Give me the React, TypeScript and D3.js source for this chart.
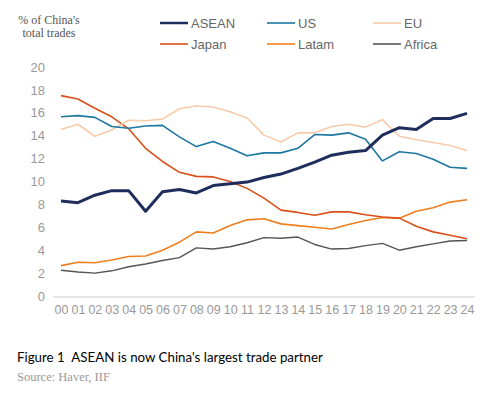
import { useRef, useEffect } from 'react';
import * as d3 from 'd3';

const years = ['00', '01', '02', '03', '04', '05', '06', '07', '08', '09', '10', '11', '12', '13', '14', '15', '16', '17', '18', '19', '20', '21', '22', '23', '24'];

const asean = [8.3, 8.15, 8.8, 9.2, 9.2, 7.4, 9.1, 9.3, 9.0, 9.65, 9.8, 9.95, 10.35, 10.65, 11.15, 11.7, 12.3, 12.55, 12.7, 14.05, 14.7, 14.55, 15.5, 15.5, 15.95];
const us = [15.65, 15.75, 15.6, 14.8, 14.65, 14.85, 14.9, 13.9, 13.05, 13.5, 12.9, 12.25, 12.5, 12.5, 12.9, 14.1, 14.05, 14.25, 13.7, 11.8, 12.6, 12.45, 11.95, 11.25, 11.15];
const eu = [14.55, 15.0, 13.95, 14.5, 15.35, 15.3, 15.45, 16.35, 16.6, 16.5, 16.1, 15.55, 14.05, 13.45, 14.25, 14.25, 14.8, 15.0, 14.75, 15.4, 13.95, 13.65, 13.4, 13.15, 12.7];
const japan = [17.5, 17.2, 16.4, 15.65, 14.6, 12.9, 11.75, 10.8, 10.45, 10.4, 10.0, 9.4, 8.55, 7.5, 7.3, 7.05, 7.35, 7.35, 7.1, 6.9, 6.8, 6.1, 5.6, 5.3, 5.0];
const latam = [2.65, 2.95, 2.9, 3.15, 3.45, 3.5, 4.0, 4.7, 5.6, 5.5, 6.15, 6.65, 6.75, 6.3, 6.15, 6.0, 5.85, 6.25, 6.6, 6.85, 6.8, 7.4, 7.7, 8.2, 8.4];
const africa = [2.25, 2.1, 2.0, 2.2, 2.55, 2.8, 3.1, 3.35, 4.2, 4.1, 4.3, 4.65, 5.1, 5.05, 5.15, 4.5, 4.1, 4.15, 4.4, 4.6, 4.0, 4.3, 4.55, 4.8, 4.85];

const yTicks = [0, 2, 4, 6, 8, 10, 12, 14, 16, 18, 20];

const series = [
  { name: 'ASEAN', values: asean, color: '#1e2d5c', width: 3 },
  { name: 'US', values: us, color: '#1c77a0', width: 1.6 },
  { name: 'EU', values: eu, color: '#f8cbab', width: 1.6 },
  { name: 'Japan', values: japan, color: '#d9501a', width: 1.6 },
  { name: 'Latam', values: latam, color: '#ef7f1e', width: 1.6 },
  { name: 'Africa', values: africa, color: '#555555', width: 1.4 },
];

const sans = '"Liberation Sans", Arial, sans-serif';
const serif = '"Liberation Serif", "Times New Roman", serif';

const App = () => {
  const svgRef = useRef<SVGSVGElement>(null);

  useEffect(() => {
    const svg = d3.select(svgRef.current);
    svg.selectAll('*').remove();

    const x = d3.scalePoint<string>().domain(years).range([61, 467]);
    const y = d3.scaleLinear().domain([0, 20]).range([296, 67]);

    // baseline
    svg.append('line')
      .attr('x1', 53).attr('x2', 475)
      .attr('y1', 297).attr('y2', 297)
      .attr('stroke', '#dcdcdc').attr('stroke-width', 1.5);

    // y axis labels
    const yAxis = svg.append('g').attr('transform', 'translate(45,0)')
      .call(d3.axisLeft(y).tickValues(yTicks).tickSize(0).tickPadding(0));
    yAxis.select('.domain').remove();
    yAxis.selectAll('text')
      .attr('font-family', sans).attr('font-size', 13).attr('fill', '#999');

    // x axis labels
    const xAxis = svg.append('g').attr('transform', 'translate(0,301)')
      .call(d3.axisBottom(x).tickSize(0).tickPadding(4));
    xAxis.select('.domain').remove();
    xAxis.selectAll('text')
      .attr('font-family', sans).attr('font-size', 12.5).attr('fill', '#999');

    const line = d3.line<number>()
      .x((d, i) => x(years[i]) as number)
      .y((d) => y(d));

    // draw back to front so ASEAN sits on top
    const order = ['Africa', 'Latam', 'Japan', 'EU', 'US', 'ASEAN'];
    order.forEach((name) => {
      const s = series.find((t) => t.name === name)!;
      svg.append('path')
        .datum(s.values)
        .attr('d', line)
        .attr('fill', 'none')
        .attr('stroke', s.color)
        .attr('stroke-width', s.width)
        .attr('stroke-linejoin', 'round');
    });

    // legend
    const legX = [160, 267, 373];
    const legY = [23, 44];
    series.forEach((s, i) => {
      const lx = legX[i % 3];
      const ly = legY[Math.floor(i / 3)];
      svg.append('line')
        .attr('x1', lx).attr('x2', lx + 28)
        .attr('y1', ly).attr('y2', ly)
        .attr('stroke', s.color)
        .attr('stroke-width', s.name === 'ASEAN' ? 2.5 : 1.6);
      svg.append('text')
        .attr('x', lx + 31).attr('y', ly + 5)
        .attr('font-family', sans).attr('font-size', 13)
        .attr('fill', '#666')
        .text(s.name);
    });

    // y title
    svg.append('text')
      .attr('x', 49).attr('y', 24)
      .attr('text-anchor', 'middle')
      .attr('font-family', serif).attr('font-size', 12).attr('fill', '#555')
      .text("% of China's");
    svg.append('text')
      .attr('x', 49).attr('y', 37)
      .attr('text-anchor', 'middle')
      .attr('font-family', serif).attr('font-size', 12).attr('fill', '#555')
      .text('total trades');

    // caption
    svg.append('text')
      .attr('x', 17).attr('y', 362)
      .attr('font-family', 'Lato, sans-serif').attr('font-size', 13.3)
      .attr('fill', '#000')
      .text("Figure 1\u2002ASEAN is now China's largest trade partner");
    svg.append('text')
      .attr('x', 17).attr('y', 381)
      .attr('font-family', serif).attr('font-size', 12.5).attr('fill', '#999')
      .text('Source: Haver, IIF');
  }, []);

  return (
    <svg
      ref={svgRef}
      width={495}
      height={397}
      style={{ position: 'absolute', left: 0, top: 0, background: '#fff' }}
    />
  );
};

export default App;
